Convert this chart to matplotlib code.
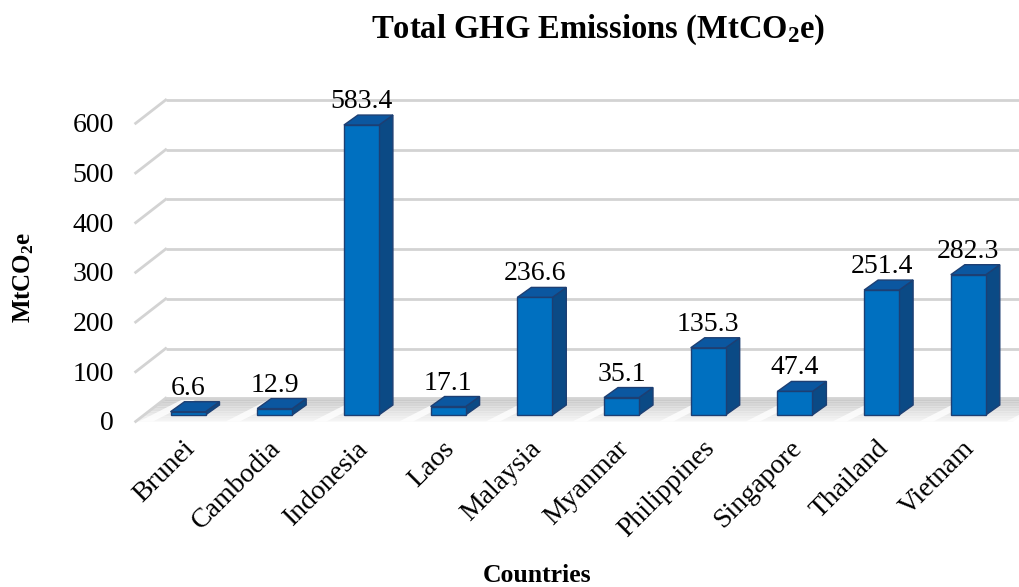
import matplotlib
matplotlib.use("Agg")
import matplotlib.pyplot as plt
from matplotlib.patches import Polygon, Rectangle

plt.rcParams['font.family'] = ['Liberation Serif', 'DejaVu Serif']
plt.rcParams['mathtext.fontset'] = 'custom'
plt.rcParams['mathtext.rm'] = 'Liberation Serif'
plt.rcParams['mathtext.bf'] = 'Liberation Serif:bold'
plt.rcParams['mathtext.it'] = 'Liberation Serif:italic'

countries = ["Brunei", "Cambodia", "Indonesia", "Laos", "Malaysia",
             "Myanmar", "Philippines", "Singapore", "Thailand", "Vietnam"]
emissions = [6.6, 12.9, 583.4, 17.1, 236.6, 35.1, 135.3, 47.4, 251.4, 282.3]
yticks = [0, 100, 200, 300, 400, 500, 600]

W, H = 1019, 587
fig = plt.figure(figsize=(W / 100, H / 100), dpi=100)
fig.patch.set_facecolor('white')

# bar plane geometry (pixels from top-left)
L_px, R_px, B_px, T_px = 144.65, 1011.65, 415.0, 116.8
ax = fig.add_axes([L_px / W, (H - B_px) / H, (R_px - L_px) / W, (B_px - T_px) / H])
ax.set_xlim(-0.5, 9.5)
ax.set_ylim(0, 600)
ax.axis('off')

sx = (R_px - L_px) / 10.0     # px per category
sy = (B_px - T_px) / 600.0    # px per unit


def px(dx, dy):
    """pixel offset (right, up) -> data offset"""
    return dx / sx, dy / sy


bdx, bdy = px(14, 10)      # bar depth
kx, ky = px(21, 16.8)      # back wall offset
fx, fy = px(-9, -6.5)      # front edge offset
xl, xr = -0.5, 9.62

# floor (gradient strips from back to front)
nstrip = 14
for k in range(nstrip):
    t0, t1 = k / nstrip, (k + 1) / nstrip
    ax0, ay0 = xl + kx + (fx - kx) * t0, ky + (fy - ky) * t0
    ax1, ay1 = xl + kx + (fx - kx) * t1, ky + (fy - ky) * t1
    g = 0.78 + 0.19 * t0
    poly = Polygon([(ax0, ay0), (xr + kx + (fx - kx) * t0, ay0),
                    (xr + kx + (fx - kx) * t1, ay1), (ax1, ay1)],
                   closed=True, facecolor=(g, g, g), edgecolor='none',
                   clip_on=False, zorder=1)
    ax.add_patch(poly)
# light diagonal gaps between bar shadows
for i in range(-1, 10):
    c = i + 0.62
    gw = 0.16
    poly = Polygon([(c - gw / 2 + fx, fy), (c + gw / 2 + fx, fy),
                    (c + gw / 2 + kx + 0.18, ky), (c - gw / 2 + kx + 0.18, ky)],
                   closed=True, facecolor='white', edgecolor='none', alpha=0.8,
                   clip_on=False, zorder=1.5)
    ax.add_patch(poly)

# back-wall gridlines and left diagonals
for v in yticks:
    ax.plot([xl + kx, xr + kx], [v + ky, v + ky], color='#d3d3d3', lw=2,
            solid_capstyle='butt', clip_on=False, zorder=2)
    ax.plot([xl + fx, xl + kx], [v + fy, v + ky], color='#d3d3d3', lw=2,
            clip_on=False, zorder=2)
    ax.text(-0.5 - 31 / sx, v - 9 / sy, f"{v}", ha='right', va='center',
            fontsize=20, color='black', clip_on=False)

# bars
bw = 35 / sx
front_c, side_c, top_c, edge_c = '#0070C0', '#0B4A85', '#0B57A0', '#1D3F73'
for i, v in enumerate(emissions):
    x0, x1 = i - bw / 2, i + bw / 2
    side = Polygon([(x1, 0), (x1 + bdx, bdy), (x1 + bdx, v + bdy), (x1, v)],
                   closed=True, facecolor=side_c, edgecolor=edge_c, lw=1,
                   clip_on=False, zorder=3)
    top = Polygon([(x0, v), (x1, v), (x1 + bdx, v + bdy), (x0 + bdx, v + bdy)],
                  closed=True, facecolor=top_c, edgecolor=edge_c, lw=1,
                  clip_on=False, zorder=3)
    front = Rectangle((x0, 0), bw, v, facecolor=front_c, edgecolor=edge_c,
                      lw=1, clip_on=False, zorder=4)
    ax.add_patch(side)
    ax.add_patch(top)
    ax.add_patch(front)
    ax.text(i, v + bdy + 7 / sy, f"{v}", ha='center', va='baseline',
            fontsize=20, color='black', clip_on=False, zorder=5)
    ax.text(i - 6 / sx, -21 / sy, countries[i], ha='right', va='top',
            rotation=45, rotation_mode='anchor', fontsize=20, clip_on=False)

fig.text(598 / W, 1 - 30 / H, r"Total GHG Emissions (MtCO$_\mathbf{2}$e)",
         ha='center', va='center', fontsize=23.5, fontweight='bold')
fig.text(24 / W, 1 - 277 / H, r"MtCO$_\mathbf{2}$e", ha='center', va='center',
         rotation=90, fontsize=18, fontweight='bold')
fig.text(537 / W, 1 - 576 / H, "Countries", ha='center', va='center',
         fontsize=18.5, fontweight='bold')

fig.savefig("out.png", dpi=100, facecolor='white')
